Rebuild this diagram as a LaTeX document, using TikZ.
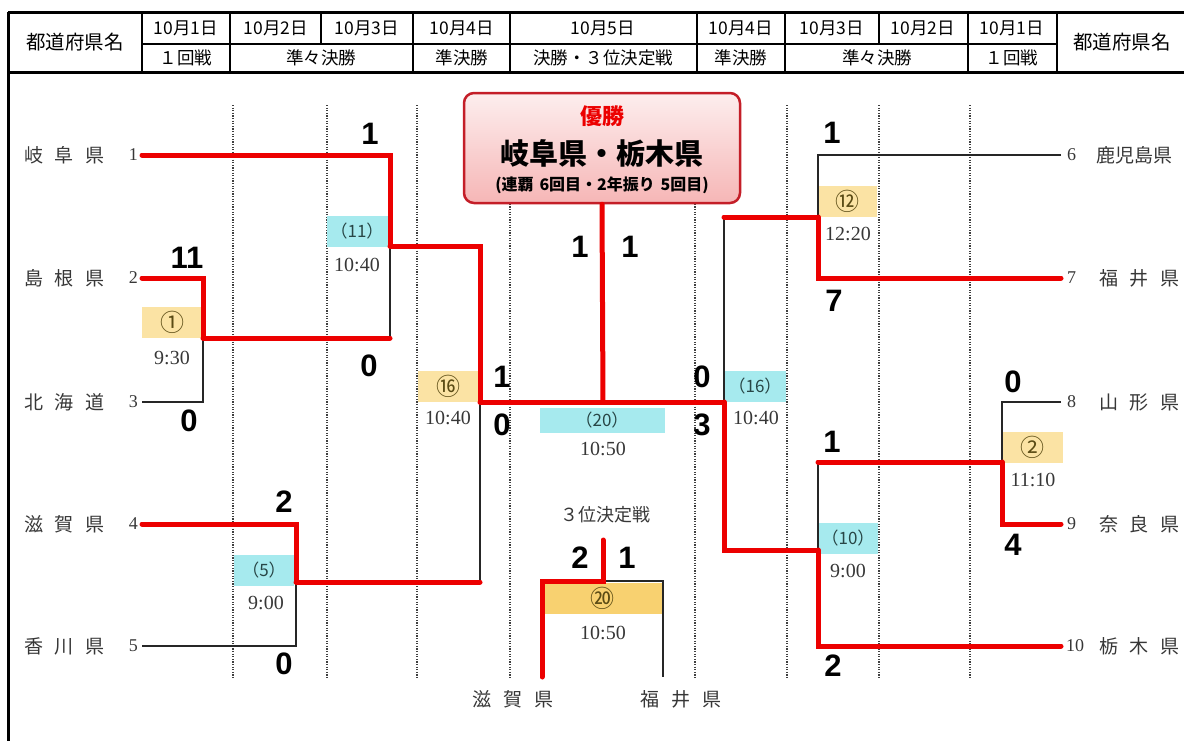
\documentclass[tikz,border=0pt]{standalone}
\usepackage{fontspec}
\setmainfont{Liberation Serif}
\newfontfamily\jp{Noto Sans CJK JP}
\newfontfamily\jpname[WordSpace=2.7, Scale=1.002]{Noto Sans CJK JP}
\newfontfamily\jpnote[WordSpace=1.6, Scale=0.998]{Noto Sans CJK JP}
\newfontfamily\scorefont{Liberation Sans}
\newcommand\fsz[1]{\fontsize{#1}{#1}\selectfont}

\definecolor{winred}{RGB}{236,0,0}
\definecolor{gameorange}{RGB}{251,227,164}
\definecolor{finalorange}{RGB}{248,209,112}
\definecolor{gamecyan}{RGB}{166,234,238}
\definecolor{champred}{RGB}{196,30,40}
\definecolor{champtop}{RGB}{253,238,238}
\definecolor{champbottom}{RGB}{246,182,182}
\definecolor{inkgray}{RGB}{55,55,55}
\definecolor{boxink}{RGB}{40,70,70}
\definecolor{oboxink}{RGB}{90,75,20}

\tikzset{
  win/.style={line width=5pt, color=winred, line cap=round},
  lose/.style={line width=1.4pt, color=black!85},
  guide/.style={line width=1.2pt, dash pattern=on 1.2pt off 1.4pt, color=black!75},
  hdr/.style={font=\jp\fsz{17.5pt}, inner sep=0pt},
  prefname/.style={font=\jpname\fsz{19pt}, text=inkgray, inner sep=0pt},
  prefnum/.style={font=\fsz{18pt}, text=inkgray, inner sep=0pt},
  score/.style={font=\scorefont\bfseries\fsz{31pt}, inner sep=0pt},
  starttime/.style={font=\fsz{20pt}, text=inkgray, inner sep=0pt},
  cbox/.style={fill=gamecyan, minimum width=60pt, minimum height=31pt, inner sep=0pt, font=\jp\fsz{17pt}, text=boxink},
  obox/.style={fill=gameorange, minimum width=60pt, minimum height=31pt, inner sep=0pt, font=\jp\fsz{24pt}, text=oboxink}
}

\begin{document}
\begin{tikzpicture}[x=1pt, y=-1pt]
\useasboundingbox (0,0) rectangle (1184,740);

% Header frame
\draw[line width=3pt] (8,12) -- (1195,12);
\draw[line width=3pt] (8,72) -- (1195,72);
\draw[line width=3pt] (8,12) -- (8,745);
\draw[line width=2.4pt] (142,12) -- (142,72);
\draw[line width=2.4pt] (1057,12) -- (1057,72);
\draw[line width=1.4pt] (142,44) -- (1057,44);
\foreach \x in {230, 413, 510, 697, 785, 968}
  \draw[line width=1.4pt] (\x,12) -- (\x,72);
\foreach \x in {321, 879}
  \draw[line width=1.4pt] (\x,12) -- (\x,44);

% Header texts
\node[hdr, font=\jp\fsz{19.5pt}] (h-pref-l) at (75,42) {都道府県名};
\node[hdr] (h-d1-l) at (186,28) {10月1日};
\node[hdr] (h-d2-l) at (276,28) {10月2日};
\node[hdr] (h-d3-l) at (367,28) {10月3日};
\node[hdr] (h-d4-l) at (462,28) {10月4日};
\node[hdr] (h-d5) at (603,28) {10月5日};
\node[hdr] (h-d4-r) at (741,28) {10月4日};
\node[hdr] (h-d3-r) at (832,28) {10月3日};
\node[hdr] (h-d2-r) at (923,28) {10月2日};
\node[hdr] (h-d1-r) at (1012,28) {10月1日};
\node[hdr, font=\jp\fsz{19.5pt}] (h-pref-r) at (1122,42) {都道府県名};
\node[hdr] (h-r1-l) at (186,58) {１回戦};
\node[hdr] (h-qf-l) at (321,58) {準々決勝};
\node[hdr] (h-sf-l) at (462,58) {準決勝};
\node[hdr] (h-final) at (603,58) {決勝・３位決定戦};
\node[hdr] (h-sf-r) at (741,58) {準決勝};
\node[hdr] (h-qf-r) at (877,58) {準々決勝};
\node[hdr] (h-r1-r) at (1012,58) {１回戦};

% Dotted guides
\foreach \x in {233, 327, 417, 510, 695, 787, 879, 970}
  \draw[guide] (\x,105) -- (\x,678);

% Team names, left
\node[prefname, anchor=west] (name-gifu) at (24,155) {岐 阜 県};
\node[prefname, anchor=west] (name-shimane) at (24,278) {島 根 県};
\node[prefname, anchor=west] (name-hokkaido) at (24,402) {北 海 道};
\node[prefname, anchor=west] (name-shiga) at (24,524) {滋 賀 県};
\node[prefname, anchor=west] (name-kagawa) at (24,646) {香 川 県};
\node[prefnum, anchor=east] (num1) at (138,155) {1};
\node[prefnum, anchor=east] (num2) at (138,278) {2};
\node[prefnum, anchor=east] (num3) at (138,402) {3};
\node[prefnum, anchor=east] (num4) at (138,524) {4};
\node[prefnum, anchor=east] (num5) at (138,646) {5};

% Team names, right
\node[prefnum, anchor=west] (num6) at (1067,155) {6};
\node[prefnum, anchor=west] (num7) at (1067,278) {7};
\node[prefnum, anchor=west] (num8) at (1067,402) {8};
\node[prefnum, anchor=west] (num9) at (1067,524) {9};
\node[prefnum, anchor=west] (num10) at (1066,646) {10};
\node[prefname, anchor=west] (name-kagoshima) at (1096,155) {鹿児島県};
\node[prefname, anchor=west] (name-fukui) at (1099,278) {福 井 県};
\node[prefname, anchor=west] (name-yamagata) at (1099,402) {山 形 県};
\node[prefname, anchor=west] (name-nara) at (1099,524) {奈 良 県};
\node[prefname, anchor=west] (name-tochigi) at (1099,646) {栃 木 県};

% Game boxes
\node[obox] (b1) at (172,322) {①};
\node[cbox, minimum width=61pt] (b11) at (357,231) {（11）};
\node[cbox] (b5) at (264,570) {（5）};
\node[obox] (b16) at (448,386) {⑯};
\node[cbox, minimum width=125pt, minimum height=25pt] (b20) at (602,420) {（20）};
\node[cbox, minimum width=61pt] (b16r) at (755,386) {（16）};
\node[obox, minimum width=59pt] (b12) at (847,201) {⑫};
\node[obox, minimum width=61pt] (b2) at (1032,447) {②};
\node[cbox] (b10) at (848,538) {（10）};
\node[obox, fill=finalorange, minimum width=121pt] (b3rd) at (602,598) {⑳};

% Start times
\node[starttime] (tm1) at (172,358) {9:30};
\node[starttime] (tm11) at (357,265) {10:40};
\node[starttime] (tm5) at (266,603) {9:00};
\node[starttime] (tm16) at (448,418) {10:40};
\node[starttime] (tm20) at (603,449) {10:50};
\node[starttime] (tm16r) at (756,418) {10:40};
\node[starttime] (tm12) at (848,234) {12:20};
\node[starttime] (tm2) at (1033,480) {11:10};
\node[starttime] (tm10) at (848,571) {9:00};
\node[starttime] (tm3rd) at (603,633) {10:50};

% Champion
\node[draw=champred, line width=2.5pt, rounded corners=10pt, top color=champtop, bottom color=champbottom,
      minimum width=276pt, minimum height=110pt] (champ) at (602,148) {};
\node[font=\jp\bfseries\fsz{22pt}, text=winred] (champ-title) at (602,116) {優勝};
\node[font=\jp\bfseries\fsz{29pt}] (champ-teams) at (602,153) {岐阜県・栃木県};
\node[font=\jpnote\bfseries\fsz{16pt}] (champ-note) at (602,185) {(連覇 6回目・2年振り 5回目)};

% Bracket points
\coordinate (t1) at (142,155);
\coordinate (t2) at (142,278);
\coordinate (t3) at (142,402);
\coordinate (t4) at (142,524);
\coordinate (t5) at (142,646);
\coordinate (t6) at (1061,155);
\coordinate (t7) at (1061,278);
\coordinate (t8) at (1061,402);
\coordinate (t9) at (1061,524);
\coordinate (t10) at (1061,646);
\coordinate (g1) at (203,338);
\coordinate (g11) at (390,246);
\coordinate (g5) at (296,582);
\coordinate (g16) at (480,402);
\coordinate (gF) at (603,402);
\coordinate (g16r) at (724,402);
\coordinate (g12) at (818,217);
\coordinate (g2) at (1002,462);
\coordinate (g10) at (818,550);
\coordinate (p3top) at (603,540);
\coordinate (p3) at (603,581);
\coordinate (s3l) at (542,677);
\coordinate (s3r) at (663,677);

% Losing paths
\draw[lose] (t3) -| (g1);
\draw[lose] (g1 -| g11) -- (g11);
\draw[lose] (t5) -| (g5);
\draw[lose] (g5 -| g16) -- (g16);
\draw[lose] (t6) -| (g12);
\draw[lose] (t8) -| (g2);
\draw[lose] (g2 -| g10) -- (g10);
\draw[lose] (g12 -| g16r) -- (g16r);
\draw[lose] (p3) -| (s3r);

% Winning paths
\draw[win] (t1) -| (g11);
\draw[win] (t2) -| (g1);
\draw[win] (g1) -- (g1 -| g11);
\draw[win] (t4) -| (g5);
\draw[win] (g11) -| (g16);
\draw[win] (g5) -- (g5 -| g16);
\draw[win] (g16) -- (g16r);
\draw[win] (gF) -- (champ.south);
\draw[win] (t7) -| (g12);
\draw[win] (g12) -- (g12 -| g16r);
\draw[win] (t9) -| (g2);
\draw[win] (g2) -- (g2 -| g10);
\draw[win] (t10) -| (g10);
\draw[win] (g10) -| (g16r);
\draw[win] (p3top) -- (p3) -| (s3l);

% Scores
\node[score] (sc-gifu) at (370,134) {1};
\node[score] (sc-shimane) at (187,258) {11};
\node[score] (sc-shimane2) at (369,366) {0};
\node[score] (sc-hokkaido) at (189,421) {0};
\node[score] (sc-shiga) at (284,502) {2};
\node[score] (sc-kagawa) at (284,664) {0};
\node[score] (sc-sf-top) at (502,377) {1};
\node[score] (sc-sf-bot) at (502,425) {0};
\node[score] (sc-fin-l) at (580,247) {1};
\node[score] (sc-fin-r) at (630,247) {1};
\node[score] (sc-sfr-top) at (702,377) {0};
\node[score] (sc-sfr-bot) at (702,425) {3};
\node[score] (sc-kagoshima) at (832,133) {1};
\node[score] (sc-fukui) at (834,301) {7};
\node[score] (sc-yamagata) at (1013,382) {0};
\node[score] (sc-nara-top) at (832,442) {1};
\node[score] (sc-nara) at (1013,545) {4};
\node[score] (sc-tochigi) at (833,666) {2};
\node[score] (sc-3rd-l) at (580,558) {2};
\node[score] (sc-3rd-r) at (627,558) {1};

% Third place labels
\node[font=\jp\fsz{18pt}, text=inkgray] (lbl-3rd) at (605,515) {３位決定戦};
\node[prefname] (name-shiga-b) at (513,699) {滋 賀 県};
\node[prefname] (name-fukui-b) at (681,699) {福 井 県};

\end{tikzpicture}
\end{document}
